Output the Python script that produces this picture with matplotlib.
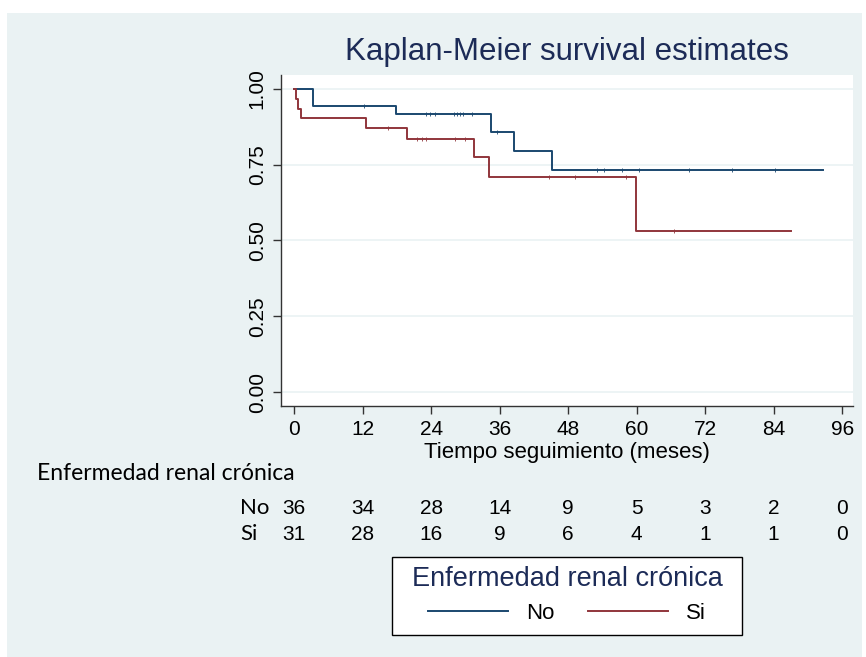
import matplotlib
matplotlib.use("Agg")
import matplotlib.pyplot as plt
from matplotlib.patches import Rectangle
from matplotlib.lines import Line2D
from matplotlib.transforms import blended_transform_factory

# Kaplan-Meier step data
no_t = [0, 3.2, 17.8, 34.5, 38.5, 45.1, 92.7]
no_s = [1.0, 0.944, 0.916, 0.858, 0.796, 0.732, 0.732]
no_cens_t = [12.3, 23.0, 23.8, 24.7, 27.9, 28.5, 29.1, 29.6, 31.1, 35.5,
             53.0, 54.2, 57.4, 60.4, 69.1, 76.7, 84.3]

si_t = [0, 0.3, 0.6, 1.1, 12.6, 19.7, 31.5, 34.2, 59.9, 87.0]
si_s = [1.0, 0.968, 0.935, 0.903, 0.871, 0.835, 0.775, 0.708, 0.531, 0.531]
si_cens_t = [16.5, 21.5, 22.4, 23.0, 28.2, 29.9, 44.6, 49.2, 58.2, 66.5]

risk_times = [0, 12, 24, 36, 48, 60, 72, 84, 96]
risk_no = [36, 34, 28, 14, 9, 5, 3, 2, 0]
risk_si = [31, 28, 16, 9, 6, 4, 1, 1, 0]

y_ticks = [0.0, 0.25, 0.5, 0.75, 1.0]

BLUE = "#1a476f"
RED = "#90353b"
BG = "#eaf2f3"
NAVY = "#1c2b57"
FONT = ["Liberation Sans", "DejaVu Sans"]
FONT2 = ["Lato", "DejaVu Sans"]


def surv_at(times, surv, t):
    val = surv[0]
    for ti, si in zip(times, surv):
        if ti <= t:
            val = si
    return val


fig = plt.figure(figsize=(8.66, 6.57), dpi=100, facecolor="white")
fig.add_artist(Rectangle((7 / 866, 0), 855 / 866, 1 - 13 / 657,
                         transform=fig.transFigure, facecolor=BG,
                         edgecolor="none", zorder=-10))

ax = fig.add_axes([280.7 / 866, 1 - 406 / 657, (853 - 280.7) / 866,
                   (406 - 75) / 657])
ax.set_facecolor("white")
ax.set_xlim(-2.38, 97.9)
ax.set_ylim(-0.046, 1.046)

for y in y_ticks:
    ax.axhline(y, color=BG, lw=1.2, zorder=0)

ax.step(no_t, no_s, where="post", color=BLUE, lw=1.4)
ax.step(si_t, si_s, where="post", color=RED, lw=1.4)
ax.plot(no_cens_t, [surv_at(no_t, no_s, t) for t in no_cens_t], ls="none",
        marker="|", ms=2.2, mew=0.6, color=BLUE)
ax.plot(si_cens_t, [surv_at(si_t, si_s, t) for t in si_cens_t], ls="none",
        marker="|", ms=2.2, mew=0.6, color=RED)

for side in ["top", "right"]:
    ax.spines[side].set_visible(False)
for side in ["left", "bottom"]:
    ax.spines[side].set_color("#333333")
    ax.spines[side].set_linewidth(1.0)

ax.set_xticks(risk_times)
ax.set_xticklabels([str(t) for t in risk_times], family=FONT, fontsize=15)
ax.set_yticks(y_ticks)
ax.set_yticklabels(["%.2f" % y for y in y_ticks], family=FONT, fontsize=15,
                   rotation=90, va="center")
ax.tick_params(length=6, width=1.0, color="#333333", pad=4)
ax.set_xlabel("Tiempo seguimiento (meses)", family=FONT, fontsize=16,
              labelpad=2)

fig.text(567 / 866, 1 - 52 / 657, "Kaplan-Meier survival estimates",
         family=FONT, fontsize=22.5, color=NAVY, ha="center", va="center")

# number at risk table
tr = blended_transform_factory(ax.transData, fig.transFigure)
fig.text(37 / 866, 1 - 474 / 657, "Enfermedad renal crónica", family=FONT2,
         fontsize=16.5, ha="left", va="center")
fig.text(240 / 866, 1 - 508 / 657, "No", family=FONT2, fontsize=16,
         ha="left", va="center")
fig.text(240 / 866, 1 - 534 / 657, "Si", family=FONT2, fontsize=16,
         ha="left", va="center")
for t, n1, n2 in zip(risk_times, risk_no, risk_si):
    ax.text(t, 1 - 508 / 657, str(n1), transform=tr, family=FONT,
            fontsize=15, ha="center", va="center")
    ax.text(t, 1 - 534 / 657, str(n2), transform=tr, family=FONT,
            fontsize=15, ha="center", va="center")

# legend box
fig.add_artist(Rectangle((392 / 866, 1 - 635 / 657), 350 / 866, 78 / 657,
                         transform=fig.transFigure, facecolor="white",
                         edgecolor="black", lw=1.0, zorder=1))
handles = [Line2D([], [], color=BLUE, lw=1.4),
           Line2D([], [], color=RED, lw=1.4)]
leg = fig.legend(handles, ["No", "Si"], ncol=2, loc="center",
                 bbox_to_anchor=(567 / 866, 1 - 595 / 657),
                 title="Enfermedad renal crónica",
                 prop={"family": FONT, "size": 16},
                 title_fontproperties={"family": FONT, "size": 19.5},
                 frameon=False, handlelength=3.6, columnspacing=1.5,
                 handletextpad=0.8, borderpad=0.3, labelspacing=0.2)
leg.get_title().set_color(NAVY)
leg._legend_box.sep = 8
leg.set_zorder(2)

fig.savefig("out.png", dpi=100, facecolor="white")
